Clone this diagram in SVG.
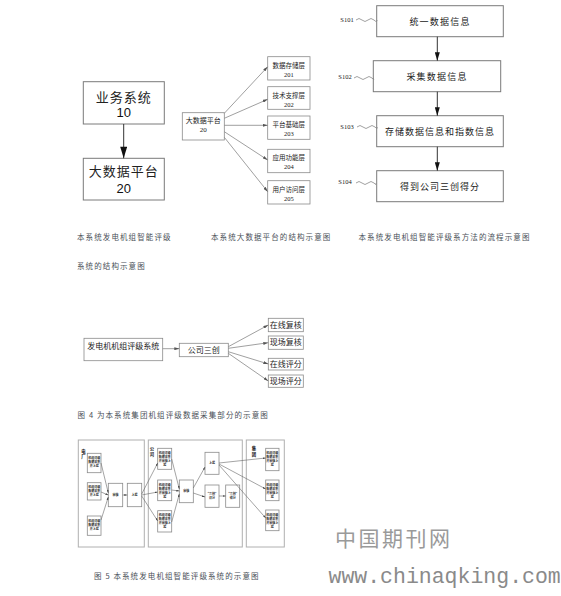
<svg xmlns="http://www.w3.org/2000/svg" width="561" height="596" viewBox="0 0 561 596">
<style>
.bx{fill:#fff;stroke:#7a7a7a;stroke-width:1}
.bx2{fill:#fff;stroke:#8a8a8a;stroke-width:0.8}
.pn{fill:none;stroke:#b0b0b0;stroke-width:1}
.cj{font-family:"Noto Sans CJK SC",sans-serif;fill:#222;text-anchor:middle;dominant-baseline:central}
.sf{font-family:"Liberation Serif","Noto Sans CJK SC",serif;fill:#222;text-anchor:middle;dominant-baseline:central}
.ss{font-family:"Liberation Sans",sans-serif;fill:#111;text-anchor:middle;dominant-baseline:central}
.cap{font-family:"Noto Sans CJK SC",sans-serif;font-size:7.5px;fill:#4a5058;letter-spacing:1.1px;dominant-baseline:central}
.ln{fill:none;stroke:#888;stroke-width:0.8}
.lk{fill:none;stroke:#333;stroke-width:1}
.tiny{font-family:"Noto Sans CJK SC",sans-serif;font-size:3px;font-weight:bold;fill:#222;text-anchor:middle;dominant-baseline:central}
.tl{font-family:"Noto Sans CJK SC",sans-serif;font-size:4.4px;font-weight:bold;fill:#111;text-anchor:middle;dominant-baseline:central}
</style>
<defs>
<marker id="a1" markerUnits="userSpaceOnUse" viewBox="0 0 10 6" refX="10" refY="3" markerWidth="16" markerHeight="7" orient="auto"><path d="M0,0 L10,3 L0,6 z" fill="#111"/></marker>
<marker id="a3" markerUnits="userSpaceOnUse" viewBox="0 0 10 6" refX="10" refY="3" markerWidth="11" markerHeight="5" orient="auto"><path d="M0,0 L10,3 L0,6 z" fill="#111"/></marker>
<marker id="ag" markerUnits="userSpaceOnUse" viewBox="0 0 10 6" refX="10" refY="3" markerWidth="5" markerHeight="3" orient="auto"><path d="M0,0 L10,3 L0,6 z" fill="#555"/></marker>
<marker id="at" markerUnits="userSpaceOnUse" viewBox="0 0 10 6" refX="10" refY="3" markerWidth="3" markerHeight="2" orient="auto"><path d="M0,0 L10,3 L0,6 z" fill="#444"/></marker>
</defs>

<!-- Figure 1 -->
<g id="fig1-n10">
<rect class="bx" x="83.3" y="81.7" width="81" height="42.3"/>
<text class="cj" x="123.8" y="96.5" font-size="13" letter-spacing="1">业务系统</text>
<text class="ss" x="123.8" y="112" font-size="13">10</text>
</g>
<g id="fig1-n20">
<rect class="bx" x="83.3" y="158.3" width="81" height="41.7"/>
<text class="cj" x="123.8" y="170.5" font-size="13" letter-spacing="1">大数据平台</text>
<text class="ss" x="123.8" y="188" font-size="13">20</text>
</g>

<!-- Figure 2 -->
<g id="fig2-n20">
<rect class="bx2" x="182.3" y="112.7" width="42" height="27.3"/>
<text class="sf" x="203.3" y="120.5" font-size="7">大数据平台</text>
<text class="sf" x="203.3" y="130" font-size="7">20</text>
</g>
<g id="fig2-n201">
<rect class="bx2" x="267.7" y="56.7" width="42.3" height="23.3"/>
<text class="sf" x="288.8" y="65" font-size="6.5">数据存储层</text>
<text class="sf" x="288.8" y="74" font-size="6.5">201</text>
</g>
<g id="fig2-n202">
<rect class="bx2" x="267.7" y="86.7" width="42.3" height="22.6"/>
<text class="sf" x="288.8" y="95" font-size="6.5">技术支撑层</text>
<text class="sf" x="288.8" y="104" font-size="6.5">202</text>
</g>
<g id="fig2-n203">
<rect class="bx2" x="267.7" y="116" width="42.3" height="23.3"/>
<text class="sf" x="288.8" y="124.5" font-size="6.5">平台基础层</text>
<text class="sf" x="288.8" y="133.5" font-size="6.5">203</text>
</g>
<g id="fig2-n204">
<rect class="bx2" x="267.7" y="149.3" width="42.3" height="23.4"/>
<text class="sf" x="288.8" y="157.5" font-size="6.5">应用功能层</text>
<text class="sf" x="288.8" y="166.5" font-size="6.5">204</text>
</g>
<g id="fig2-n205">
<rect class="bx2" x="267.7" y="180.7" width="42.3" height="23.3"/>
<text class="sf" x="288.8" y="189" font-size="6.5">用户访问层</text>
<text class="sf" x="288.8" y="198" font-size="6.5">205</text>
</g>

<!-- Figure 3 -->
<g id="fig3-s101">
<rect class="bx" x="376.7" y="5.7" width="126.6" height="31"/>
<text class="cj" x="440" y="21.5" font-size="9" letter-spacing="1.2">统一数据信息</text>
<text class="sf" x="347" y="19.3" font-size="6.5">S101</text>
<path class="ln" d="M356,20 q3,-3 6,0 t6,0 t6,0 t3,0" stroke="#555"/>
</g>
<g id="fig3-s102">
<rect class="bx" x="373.3" y="60.7" width="127.4" height="31"/>
<text class="cj" x="437" y="76.5" font-size="9" letter-spacing="1.2">采集数据信息</text>
<text class="sf" x="345" y="76.7" font-size="6.5">S102</text>
<path class="ln" d="M354,78 q3,-3 6,0 t6,0 t6,0 t1,0" stroke="#555"/>
</g>
<g id="fig3-s103">
<rect class="bx" x="376.7" y="115.7" width="126.6" height="31"/>
<text class="cj" x="440" y="131.5" font-size="9" letter-spacing="1">存储数据信息和指数信息</text>
<text class="sf" x="347" y="126" font-size="6.5">S103</text>
<path class="ln" d="M357,127 q3,-3 6,0 t6,0 t6,0 t2,0" stroke="#555"/>
</g>
<g id="fig3-s104">
<rect class="bx" x="376.7" y="170.7" width="126.6" height="31"/>
<text class="cj" x="440" y="186" font-size="9" letter-spacing="1">得到公司三创得分</text>
<text class="sf" x="345" y="181.7" font-size="6.5">S104</text>
<path class="ln" d="M356,183 q3,-3 6,0 t6,0 t6,0 t2,0" stroke="#555"/>
</g>

<!-- Figure 4 -->
<g id="fig4-sys">
<rect class="bx2" x="84" y="338.3" width="78.7" height="22.4"/>
<text class="sf" x="123.3" y="346.5" font-size="8">发电机机组评级系统</text>
</g>
<g id="fig4-sc">
<rect class="bx2" x="179.3" y="343.3" width="49" height="13.4"/>
<text class="sf" x="203.8" y="350" font-size="8">公司三创</text>
</g>
<g id="fig4-r1"><rect class="bx2" x="268.3" y="318.3" width="35" height="13.4"/><text class="sf" x="285.8" y="325" font-size="8">在线复核</text></g>
<g id="fig4-r2"><rect class="bx2" x="268.3" y="336" width="35" height="13.3"/><text class="sf" x="285.8" y="342.7" font-size="8">现场复核</text></g>
<g id="fig4-r3"><rect class="bx2" x="268.3" y="358.3" width="35" height="11.7"/><text class="sf" x="285.8" y="364.2" font-size="8">在线评分</text></g>
<g id="fig4-r4"><rect class="bx2" x="268.3" y="375" width="35" height="12.3"/><text class="sf" x="285.8" y="381.2" font-size="8">现场评分</text></g>

<!-- Figure 5 panels -->
<g id="fig5-panels">
<rect class="pn" x="78.3" y="440" width="66" height="107"/>
<rect class="pn" x="148.3" y="440" width="94" height="107"/>
<rect class="pn" x="246.3" y="440" width="38" height="107"/>
<text class="tl" x="83.5" y="450.5">电</text><text class="tl" x="83.5" y="456">厂</text>
<text class="tl" x="152" y="448.3">公</text><text class="tl" x="152" y="453.8">司</text>
<text class="tl" x="254" y="448.3">集</text><text class="tl" x="254" y="453.8">团</text>
</g>
<g id="fig5-a1"><rect class="bx2" x="87.3" y="453.3" width="13.7" height="19.4"/><text class="tiny" x="94.2" y="458">机组评级</text><text class="tiny" x="94.2" y="462">数据采集</text><text class="tiny" x="94.2" y="466">并上报</text></g>
<g id="fig5-a2"><rect class="bx2" x="87.3" y="482.7" width="13.7" height="17.3"/><text class="tiny" x="94.2" y="487">机组评级</text><text class="tiny" x="94.2" y="491">数据采集</text><text class="tiny" x="94.2" y="495">并上报</text></g>
<g id="fig5-a3"><rect class="bx2" x="87.3" y="516" width="13.7" height="19.3"/><text class="tiny" x="94.2" y="521">机组评级</text><text class="tiny" x="94.2" y="525">数据采集</text><text class="tiny" x="94.2" y="529">并上报</text></g>
<g id="fig5-sh1"><rect class="bx2" x="108.3" y="483.3" width="14.4" height="23.4"/><text class="tiny" x="115.5" y="495">审核</text></g>
<g id="fig5-sb1"><rect class="bx2" x="127.3" y="483.3" width="14.4" height="23.4"/><text class="tiny" x="134.5" y="495">上报</text></g>
<g id="fig5-b1"><rect class="bx2" x="157.7" y="448.3" width="14" height="21"/><text class="tiny" x="164.7" y="453">机组评级</text><text class="tiny" x="164.7" y="457">数据采集</text><text class="tiny" x="164.7" y="461">并审核上</text><text class="tiny" x="164.7" y="465">报</text></g>
<g id="fig5-b2"><rect class="bx2" x="157.7" y="480" width="14" height="20.7"/><text class="tiny" x="164.7" y="484.5">机组评级</text><text class="tiny" x="164.7" y="488.5">数据采集</text><text class="tiny" x="164.7" y="492.5">并审核上</text><text class="tiny" x="164.7" y="496.5">报</text></g>
<g id="fig5-b3"><rect class="bx2" x="157.7" y="510.7" width="14" height="21.3"/><text class="tiny" x="164.7" y="515">机组评级</text><text class="tiny" x="164.7" y="519">数据采集</text><text class="tiny" x="164.7" y="523">并审核上</text><text class="tiny" x="164.7" y="527">报</text></g>
<g id="fig5-sh2"><rect class="bx2" x="179.3" y="480" width="14" height="22.7"/><text class="tiny" x="186.3" y="491.3">审核</text></g>
<g id="fig5-sb2"><rect class="bx2" x="205" y="452.3" width="14" height="22"/><text class="tiny" x="212" y="463.3">上报</text></g>
<g id="fig5-sc1"><rect class="bx2" x="205" y="485" width="14" height="22.3"/><text class="tiny" x="212" y="494">“三创”</text><text class="tiny" x="212" y="498">评分</text></g>
<g id="fig5-sc2"><rect class="bx2" x="225.7" y="485" width="14" height="22.3"/><text class="tiny" x="232.7" y="494">“三创”</text><text class="tiny" x="232.7" y="498">得分</text></g>
<g id="fig5-c1"><rect class="bx2" x="265.7" y="448.3" width="13.3" height="22.4"/><text class="tiny" x="272.3" y="453">机组评级</text><text class="tiny" x="272.3" y="457">数据采集</text><text class="tiny" x="272.3" y="461">并审核上</text><text class="tiny" x="272.3" y="465">报</text></g>
<g id="fig5-c2"><rect class="bx2" x="265.7" y="480" width="13.3" height="20.7"/><text class="tiny" x="272.3" y="484.5">机组评级</text><text class="tiny" x="272.3" y="488.5">数据采集</text><text class="tiny" x="272.3" y="492.5">并审核上</text><text class="tiny" x="272.3" y="496.5">报</text></g>
<g id="fig5-c3"><rect class="bx2" x="265.7" y="510" width="13.3" height="20.7"/><text class="tiny" x="272.3" y="514.5">机组评级</text><text class="tiny" x="272.3" y="518.5">数据采集</text><text class="tiny" x="272.3" y="522.5">并审核上</text><text class="tiny" x="272.3" y="526.5">报</text></g>

<!-- Connectors -->
<g id="connectors">
<line class="lk" x1="123.7" y1="124" x2="123.7" y2="158.3" marker-end="url(#a1)"/>
<line class="ln" x1="224.3" y1="113.3" x2="267.7" y2="66.7" marker-end="url(#ag)"/>
<line class="ln" x1="224.3" y1="118.3" x2="267.7" y2="99.3" marker-end="url(#ag)"/>
<line class="ln" x1="224.3" y1="125.3" x2="267.7" y2="125.3" marker-end="url(#ag)"/>
<line class="ln" x1="224.3" y1="131.7" x2="267.7" y2="160" marker-end="url(#ag)"/>
<line class="ln" x1="224.3" y1="137.3" x2="267.7" y2="191.7" marker-end="url(#ag)"/>
<line class="lk" x1="437.3" y1="36.7" x2="437.3" y2="60.7" marker-end="url(#a3)"/>
<line class="lk" x1="437.3" y1="91.7" x2="437.3" y2="115.7" marker-end="url(#a3)"/>
<line class="lk" x1="437.3" y1="146.7" x2="437.3" y2="170.7" marker-end="url(#a3)"/>
<line class="ln" x1="162.7" y1="348.7" x2="179.3" y2="348.7" marker-end="url(#ag)"/>
<line class="ln" x1="228.3" y1="346.7" x2="268.3" y2="325" marker-end="url(#ag)"/>
<line class="ln" x1="228.3" y1="348.3" x2="268.3" y2="342.7" marker-end="url(#ag)"/>
<line class="ln" x1="228.3" y1="351.7" x2="268.3" y2="364" marker-end="url(#ag)"/>
<line class="ln" x1="228.3" y1="353.3" x2="268.3" y2="381" marker-end="url(#ag)"/>
<g stroke="#666" stroke-width="0.6" fill="none">
<line x1="101" y1="463" x2="108.3" y2="493" marker-end="url(#at)"/>
<line x1="101" y1="492" x2="108.3" y2="495" marker-end="url(#at)"/>
<line x1="101" y1="520" x2="108.3" y2="497" marker-end="url(#at)"/>
<line x1="122.7" y1="495" x2="127.3" y2="495" marker-end="url(#at)"/>
<line x1="141.7" y1="494" x2="157.7" y2="463" marker-end="url(#at)"/>
<line x1="141.7" y1="495" x2="157.7" y2="492" marker-end="url(#at)"/>
<line x1="141.7" y1="496" x2="157.7" y2="521" marker-end="url(#at)"/>
<line x1="171.7" y1="459" x2="179.3" y2="489" marker-end="url(#at)"/>
<line x1="171.7" y1="490" x2="179.3" y2="491" marker-end="url(#at)"/>
<line x1="171.7" y1="522" x2="179.3" y2="494" marker-end="url(#at)"/>
<line x1="193.3" y1="488" x2="205" y2="467" marker-end="url(#at)"/>
<line x1="193.3" y1="493" x2="205" y2="497" marker-end="url(#at)"/>
<line x1="219" y1="496" x2="225.7" y2="496" marker-end="url(#at)"/>
<line x1="219" y1="463" x2="265.7" y2="458" marker-end="url(#at)"/>
<line x1="219" y1="464" x2="265.7" y2="489" marker-end="url(#at)"/>
<line x1="219" y1="465" x2="265.7" y2="518" marker-end="url(#at)"/>
</g>
</g>

<!-- Captions -->
<text class="cap" x="77" y="236.7">本系统发电机组智能评级</text>
<text class="cap" x="211" y="236.7">本系统大数据平台的结构示意图</text>
<text class="cap" x="358.5" y="236.7">本系统发电机组智能评级系方法的流程示意图</text>
<text class="cap" x="77" y="265">系统的结构示意图</text>
<text class="cap" x="77.5" y="414">图 4 为本系统集团机组评级数据采集部分的示意图</text>
<text class="cap" x="94" y="575">图 5 本系统发电机组智能评级系统的示意图</text>

<!-- Watermark -->
<text x="335" y="537" font-family="Noto Sans CJK SC,sans-serif" font-size="21" fill="#9a9a9a" letter-spacing="2.5" dominant-baseline="central">中国期刊网</text>
<text x="328.5" y="583" font-family="Liberation Mono,monospace" font-size="21.5" fill="#8a8a8a">www.chinaqking.com</text>
</svg>
